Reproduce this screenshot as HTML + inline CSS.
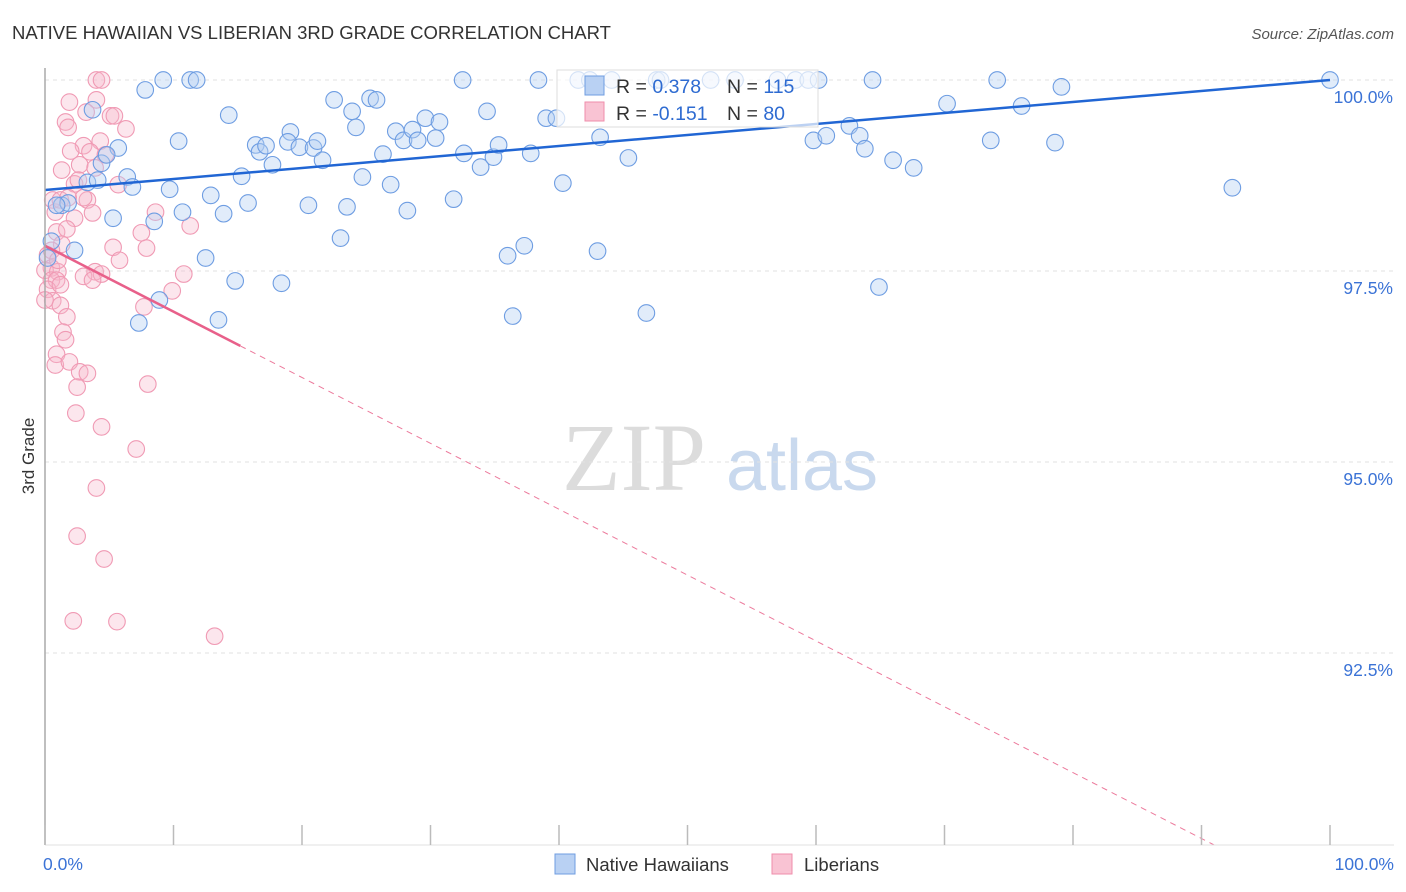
<!DOCTYPE html>
<html><head><meta charset="utf-8"><style>
body{margin:0;background:#fff;font-family:"Liberation Sans",sans-serif;}
#wrap{position:relative;width:1406px;height:892px;overflow:hidden;}
</style></head><body>
<div id="wrap">
<svg id="chart" width="1406" height="892">
<text x="12" y="39" font-size="18.5" fill="#333">NATIVE HAWAIIAN VS LIBERIAN 3RD GRADE CORRELATION CHART</text>
<text x="1394" y="39" font-size="15" fill="#555" font-style="italic" text-anchor="end">Source: ZipAtlas.com</text>
<text x="0" y="0" transform="translate(34,456) rotate(-90)" font-size="17" fill="#333" text-anchor="middle">3rd Grade</text>
<g>
<text x="634" y="490" font-size="96" font-family="Liberation Serif,serif" fill="#dcdcdc" text-anchor="middle">ZIP</text>
<text x="802" y="490" font-size="72" fill="#c9d9ee" text-anchor="middle">atlas</text>
</g>
<g id="grid"></g><g id="pts"></g><g id="lines"></g><g id="axes"></g>
<g>
<rect x="557" y="70" width="261" height="57" fill="#fff" fill-opacity="0.7" stroke="#ddd"/>
<rect x="585" y="76" width="19" height="19" fill="#b9d1f3" stroke="#6f9de0"/>
<rect x="585" y="102" width="19" height="19" fill="#f9c3d3" stroke="#ef8eab"/>
<text x="616" y="93" font-size="19.5" fill="#333">R = <tspan fill="#2e6bd1">0.378</tspan><tspan x="727">N = </tspan><tspan fill="#2e6bd1">115</tspan></text>
<text x="616" y="120" font-size="19.5" fill="#333">R = <tspan fill="#2e6bd1">-0.151</tspan><tspan x="727">N = </tspan><tspan fill="#2e6bd1">80</tspan></text>
</g>
<g>
<rect x="555" y="854" width="20" height="20" fill="#b9d1f3" stroke="#6f9de0"/>
<text x="586" y="871" font-size="18.5" fill="#333">Native Hawaiians</text>
<rect x="772" y="854" width="20" height="20" fill="#f9c3d3" stroke="#ef8eab"/>
<text x="804" y="871" font-size="18.5" fill="#333">Liberians</text>
</g>
</svg>
</div>
<script>
const yTicks=[100,97.5,95,92.5];
const yTickLabels=["100.0%","97.5%","95.0%","92.5%"];
const xEndLabels=["0.0%","100.0%"];
const blueX=[0.5,0.2,2.3,1.3,1.8,3.7,5.7,3.3,6.4,6.8,4.4,4.8,5.3,7.3,7.8,9.2,11.3,11.8,9.7,10.4,10.7,8.5,8.9,12.5,12.9,13.5,13.9,14.3,14.8,15.3,15.8,16.4,16.7,17.2,17.7,18.4,19.1,18.9,19.8,20.5,20.9,21.2,21.6,22.5,23.0,23.5,23.9,24.2,24.7,25.3,25.8,26.3,26.9,27.3,27.9,28.2,28.6,29.0,29.6,30.4,30.7,31.8,32.5,32.6,33.9,34.4,34.9,35.3,36.0,36.4,37.3,37.8,38.4,39.0,39.8,40.3,41.5,42.4,43.0,43.2,44.1,45.4,46.8,47.6,47.9,51.8,53.7,57.0,58.4,59.4,60.2,59.8,60.8,62.6,63.4,63.8,64.4,64.9,66.0,67.6,70.2,74.1,76.0,73.6,78.6,79.1,92.4,100,4.1,0.9];
const blueY=[97.89,97.67,97.77,98.36,98.39,99.61,99.11,98.66,98.73,98.60,98.91,99.02,98.19,96.82,99.87,100,100,100,98.57,99.20,98.27,98.15,97.12,97.67,98.49,96.86,98.25,99.54,97.37,98.74,98.39,99.15,99.06,99.14,98.89,97.34,99.32,99.19,99.12,98.36,99.11,99.20,98.95,99.74,97.93,98.34,99.59,99.38,98.73,99.76,99.74,99.03,98.63,99.33,99.21,98.29,99.35,99.21,99.50,99.24,99.45,98.44,100,99.04,98.86,99.59,98.99,99.15,97.70,96.91,97.83,99.04,100,99.50,99.50,98.65,100,100,97.76,99.25,100,98.98,96.95,100,100,100,100,100,100,100,100,99.21,99.27,99.40,99.27,99.10,100,97.29,98.95,98.85,99.69,100,99.66,99.21,99.18,99.91,98.59,100,98.69,98.36];
const pinkX=[4.0,4.4,1.9,4.0,1.6,1.8,3.2,5.1,5.4,6.3,4.3,3.0,2.0,3.5,1.3,2.7,4.7,3.9,2.3,2.6,3.3,0.6,0.8,3.0,5.7,2.3,3.7,8.6,0.9,1.7,7.5,11.3,5.3,7.9,1.3,0.2,0.5,0.0,1.0,0.5,0.9,0.2,0.6,1.2,1.7,1.4,1.6,0.9,0.8,1.9,2.7,3.3,2.5,3.9,4.4,3.0,10.8,9.9,7.7,8.0,2.4,4.4,7.1,4.0,2.5,4.6,2.2,5.6,13.2,5.8,1.2,1.8,3.7,0.0,0.5,1.0,1.2];
const pinkY=[100,100,99.71,99.74,99.45,99.38,99.58,99.53,99.53,99.36,99.20,99.14,99.07,99.06,98.82,98.89,99.02,98.85,98.64,98.69,98.43,98.43,98.27,98.46,98.63,98.19,98.26,98.27,98.01,98.05,98.00,98.09,97.81,97.80,97.85,97.71,97.54,97.51,97.49,97.38,97.38,97.26,97.11,97.05,96.90,96.70,96.60,96.41,96.27,96.31,96.18,96.16,95.98,97.49,97.46,97.43,97.46,97.24,97.03,96.02,95.64,95.46,95.17,94.66,94.03,93.73,92.92,92.91,92.72,97.64,98.43,98.46,97.38,97.12,97.77,97.64,97.32];
const blueTrend=[98.56,100];      // y at x=0, x=100
const pinkTrend=[97.83,-0.0862];  // intercept, slope
const pinkSolidEnd=15.2;

const NS="http://www.w3.org/2000/svg";
const X0=45,X1=1330,YTOP=80,YBOT=845;
const sx=v=>X0+(X1-X0)*v/100;
const sy=v=>YTOP+(100-v)*76.4;
function mk(tag,attrs,parent){const e=document.createElementNS(NS,tag);for(const k in attrs)e.setAttribute(k,attrs[k]);parent.appendChild(e);return e;}
const grid=document.getElementById('grid'),axes=document.getElementById('axes'),pts=document.getElementById('pts'),lines=document.getElementById('lines');
yTicks.forEach((t,i)=>{
  const l=mk('line',{x1:X0,x2:1394,y1:sy(t),y2:sy(t),stroke:'#e2e2e2','stroke-dasharray':'4,4'},grid);
  
  
  const tx=mk('text',{x:1393,y:sy(t)+23,'font-size':17.5,fill:'#3b73d6','text-anchor':'end'},axes);
  tx.textContent=yTickLabels[i];
  
  
});
const ya=mk('line',{x1:X0,x2:X0,y1:68,y2:YBOT,stroke:'#aaa','stroke-width':1.5},axes);


const xa=mk('line',{x1:X0,x2:1394,y1:YBOT,y2:YBOT,stroke:'#e2e2e2'},axes);


for(let i=0;i<=10;i++){
  const tk=mk('line',{x1:sx(i*10),x2:sx(i*10),y1:825,y2:YBOT,stroke:'#bbb','stroke-width':1.5},axes);
  
  
}
[[0,'start',X0-2],[1,'end',1394]].forEach(([i,a,x])=>{
  const t=mk('text',{x:x,y:870,'font-size':17.5,fill:'#3b73d6','text-anchor':a},axes);
  t.textContent=xEndLabels[i];
  
  
});
pinkX.forEach((v,i)=>{
  const c=mk('circle',{cx:sx(v),cy:sy(pinkY[i]),r:8.3,fill:'#f6b7cb','fill-opacity':0.35,stroke:'#f09ab4','stroke-width':1.1},pts);
  
  
});
blueX.forEach((v,i)=>{
  const c=mk('circle',{cx:sx(v),cy:sy(blueY[i]),r:8.3,fill:'#b5cff2','fill-opacity':0.4,stroke:'#6e9de2','stroke-width':1.1},pts);
  
  
});
const bl=mk('line',{x1:sx(0),y1:sy(blueTrend[0]),x2:sx(100),y2:sy(blueTrend[1]),stroke:'#2166d4','stroke-width':2.5},lines);


const pv=x=>pinkTrend[0]+pinkTrend[1]*x;
const pl=mk('line',{x1:sx(0),y1:sy(pv(0)),x2:sx(pinkSolidEnd),y2:sy(pv(pinkSolidEnd)),stroke:'#e8608a','stroke-width':2.5},lines);


let xe=100,ymin=100-(YBOT-YTOP)/76.4;
if(pv(100)<ymin) xe=(ymin-pinkTrend[0])/pinkTrend[1];
const pd=mk('line',{x1:sx(pinkSolidEnd),y1:sy(pv(pinkSolidEnd)),x2:sx(xe),y2:sy(pv(xe)),stroke:'#ec7a9c','stroke-width':1,'stroke-dasharray':'6,5'},lines);


</script>
</body></html>
